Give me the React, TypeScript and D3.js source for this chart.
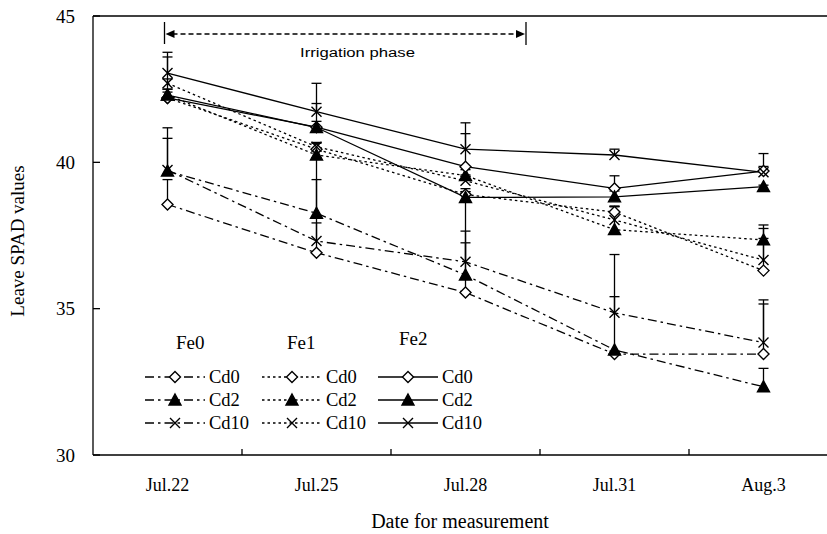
import React, { useEffect, useRef } from "react";
import * as d3 from "d3";

// measurement dates
const dates = ["Jul.22", "Jul.25", "Jul.28", "Jul.31", "Aug.3"];
const yTicks = [30, 35, 40, 45];

// SPAD means
const fe0Cd0 = [38.56, 36.91, 35.55, 33.45, 33.45];
const fe0Cd2 = [39.7, 38.26, 36.15, 33.59, 32.33];
const fe0Cd10 = [39.74, 37.31, 36.6, 34.86, 33.84];
const fe1Cd0 = [42.2, 40.45, 38.9, 38.3, 36.3];
const fe1Cd2 = [42.3, 40.25, 39.55, 37.7, 37.35];
const fe1Cd10 = [42.7, 40.53, 39.37, 38.03, 36.66];
const fe2Cd0 = [42.2, 41.2, 39.85, 39.11, 39.7];
const fe2Cd2 = [42.3, 41.19, 38.8, 38.82, 39.17];
const fe2Cd10 = [43.05, 41.73, 40.45, 40.25, 39.66];

// plus-direction error bars
const fe0Cd0Err = [0.85, 1.02, 2.1, 0.1, 1.85];
const fe0Cd2Err = [1.48, 1.9, 2.85, 3.26, 0.63];
const fe0Cd10Err = [1.08, 2.1, 0.65, 0.55, 1.32];
const fe1Cd0Err = [0.2, 0.2, 0.2, 0.2, 1.56];
const fe1Cd2Err = [0.2, 0.2, 0.2, 0.8, 0.05];
const fe1Cd10Err = [0.15, 0.15, 0.2, 0.45, 1.08];
const fe2Cd0Err = [0.3, 0.2, 1.5, 0.43, 0.6];
const fe2Cd2Err = [1.46, 0.82, 0.2, 0.2, 0.05];
const fe2Cd10Err = [0.55, 0.97, 0.53, 0.2, 0.2];

const feGroups = ["Fe0", "Fe1", "Fe2"];
const cdLevels = ["Cd0", "Cd2", "Cd10"];

const W = 827;
const H = 534;
const serif = "'Liberation Serif', 'Times New Roman', serif";
const sans = "'Liberation Sans', Arial, sans-serif";

const dashes = ["9,4,2.5,4", "2.5,3", null];
const markerPaths: Record<string, string> = {
  Cd0: "M0,-5.5L5.5,0L0,5.5L-5.5,0Z",
  Cd2: "M0,-6L6,5L-6,5Z",
  Cd10: "M-5,-5L5,5M-5,5L5,-5",
};

function drawMarker(g: any, cd: string, cx: number, cy: number) {
  const p = g
    .append("path")
    .attr("d", markerPaths[cd])
    .attr("transform", `translate(${cx},${cy})`)
    .attr("stroke", "#000")
    .attr("stroke-width", 1.4);
  if (cd === "Cd0") p.attr("fill", "#fff");
  else if (cd === "Cd2") p.attr("fill", "#000");
  else p.attr("fill", "none");
}

export default function App() {
  const ref = useRef<SVGSVGElement>(null);

  useEffect(() => {
    const svg = d3.select(ref.current);
    svg.selectAll("*").remove();

    const left = 93;
    const top = 16;
    const bottom = 455;

    const x = d3.scaleBand().domain(dates).range([left, left + 149 * 5]);
    const y = d3.scaleLinear().domain([30, 45]).range([bottom, top]);
    const cx = (d: string) => (x(d) as number) + x.bandwidth() / 2;

    const series = [
      { fe: 0, cd: "Cd0", v: fe0Cd0, e: fe0Cd0Err },
      { fe: 0, cd: "Cd2", v: fe0Cd2, e: fe0Cd2Err },
      { fe: 0, cd: "Cd10", v: fe0Cd10, e: fe0Cd10Err },
      { fe: 1, cd: "Cd0", v: fe1Cd0, e: fe1Cd0Err },
      { fe: 1, cd: "Cd2", v: fe1Cd2, e: fe1Cd2Err },
      { fe: 1, cd: "Cd10", v: fe1Cd10, e: fe1Cd10Err },
      { fe: 2, cd: "Cd0", v: fe2Cd0, e: fe2Cd0Err },
      { fe: 2, cd: "Cd2", v: fe2Cd2, e: fe2Cd2Err },
      { fe: 2, cd: "Cd10", v: fe2Cd10, e: fe2Cd10Err },
    ];

    // axes frame
    const axis = svg.append("g").attr("stroke", "#000").attr("stroke-width", 1.3);
    axis.append("line").attr("x1", left).attr("x2", left).attr("y1", top).attr("y2", bottom);
    axis.append("line").attr("x1", left).attr("x2", W).attr("y1", bottom).attr("y2", bottom);
    axis.append("line").attr("x1", left).attr("x2", W).attr("y1", top).attr("y2", top);

    yTicks.forEach((t) => {
      axis.append("line").attr("x1", left).attr("x2", left + 7).attr("y1", y(t)).attr("y2", y(t));
      svg
        .append("text")
        .attr("x", left - 18)
        .attr("y", y(t))
        .attr("dy", "0.35em")
        .attr("text-anchor", "end")
        .style("font-family", serif)
        .style("font-size", "19px")
        .text(t);
    });

    dates.forEach((d, i) => {
      if (i > 0) {
        const bx = x(d) as number;
        axis.append("line").attr("x1", bx).attr("x2", bx).attr("y1", bottom).attr("y2", bottom - 6);
      }
      svg
        .append("text")
        .attr("x", cx(d))
        .attr("y", 491)
        .attr("text-anchor", "middle")
        .style("font-family", serif)
        .style("font-size", "18px")
        .text(d);
    });

    svg
      .append("text")
      .attr("x", 460)
      .attr("y", 528)
      .attr("text-anchor", "middle")
      .style("font-family", serif)
      .style("font-size", "20px")
      .text("Date for measurement");

    svg
      .append("text")
      .attr("transform", `translate(24,241) rotate(-90)`)
      .attr("text-anchor", "middle")
      .style("font-family", serif)
      .style("font-size", "19px")
      .text("Leave SPAD values");

    // irrigation phase arrow
    const ar = svg.append("g").attr("stroke", "#000").attr("stroke-width", 1.3);
    const ax1 = cx(dates[0]) - 3;
    const ax2 = 526;
    ar.append("line").attr("x1", ax1).attr("x2", ax1).attr("y1", 22).attr("y2", 44);
    ar.append("line").attr("x1", ax2).attr("x2", ax2).attr("y1", 22).attr("y2", 45);
    ar.append("line")
      .attr("x1", ax1 + 8)
      .attr("x2", ax2 - 8)
      .attr("y1", 34)
      .attr("y2", 34)
      .attr("stroke-dasharray", "5,3");
    ar.append("path")
      .attr("d", `M${ax1 + 1},34L${ax1 + 10},30L${ax1 + 10},38Z`)
      .attr("fill", "#000")
      .attr("stroke", "none");
    ar.append("path")
      .attr("d", `M${ax2 - 1},34L${ax2 - 10},30L${ax2 - 10},38Z`)
      .attr("fill", "#000")
      .attr("stroke", "none");
    svg
      .append("text")
      .attr("x", 300)
      .attr("y", 57)
      .attr("textLength", 115)
      .attr("lengthAdjust", "spacingAndGlyphs")
      .style("font-family", sans)
      .style("font-size", "12.5px")
      .text("Irrigation phase");

    // error bars
    const eb = svg.append("g").attr("stroke", "#000").attr("stroke-width", 1.3);
    series.forEach((s) => {
      dates.forEach((d, i) => {
        const px = cx(d);
        const y0 = y(s.v[i]);
        const y1 = y(s.v[i] + s.e[i]);
        eb.append("line").attr("x1", px).attr("x2", px).attr("y1", y0).attr("y2", y1);
        eb.append("line").attr("x1", px - 5).attr("x2", px + 5).attr("y1", y1).attr("y2", y1);
      });
    });

    // lines + markers
    const line = d3
      .line<number>()
      .x((_, i) => cx(dates[i]))
      .y((v) => y(v));
    series.forEach((s) => {
      const p = svg
        .append("path")
        .datum(s.v)
        .attr("d", line)
        .attr("fill", "none")
        .attr("stroke", "#000")
        .attr("stroke-width", 1.3);
      if (dashes[s.fe]) p.attr("stroke-dasharray", dashes[s.fe] as string);
    });
    const mk = svg.append("g");
    series.forEach((s) => {
      s.v.forEach((v, i) => drawMarker(mk, s.cd, cx(dates[i]), y(v)));
    });

    // legend
    const lg = svg.append("g");
    const headX = [176, 287, 399];
    const headY = [349, 349, 345];
    const colX = [145, 262, 378];
    const rowY = [377, 400, 423];
    feGroups.forEach((fe, c) => {
      lg.append("text")
        .attr("x", headX[c])
        .attr("y", headY[c])
        .style("font-family", serif)
        .style("font-size", "19px")
        .text(fe);
      cdLevels.forEach((cd, r) => {
        const l = lg
          .append("line")
          .attr("x1", colX[c])
          .attr("x2", colX[c] + 60)
          .attr("y1", rowY[r])
          .attr("y2", rowY[r])
          .attr("stroke", "#000")
          .attr("stroke-width", 1.3);
        if (dashes[c]) l.attr("stroke-dasharray", dashes[c] as string);
        drawMarker(lg, cd, colX[c] + 30, rowY[r]);
        lg.append("text")
          .attr("x", colX[c] + 64)
          .attr("y", rowY[r] + 6)
          .style("font-family", serif)
          .style("font-size", "18.5px")
          .text(cd);
      });
    });
  }, []);

  return (
    <svg ref={ref} width={W} height={H} style={{ display: "block", position: "absolute", left: 0, top: 0, background: "#fff" }} />
  );
}
